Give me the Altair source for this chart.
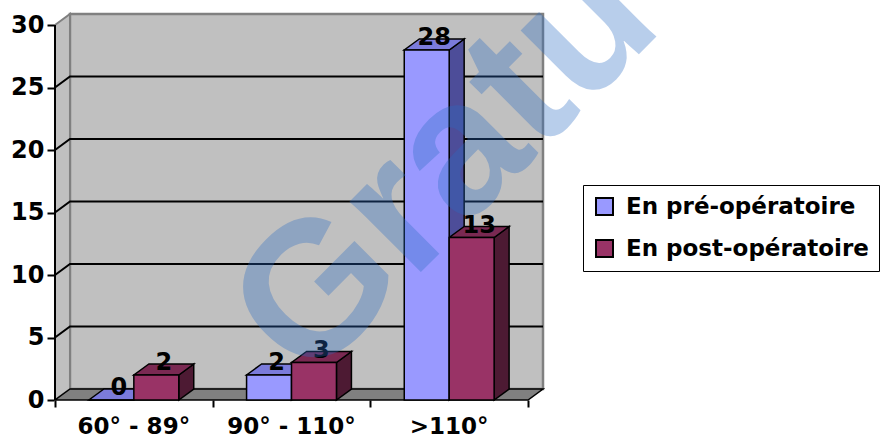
import altair as alt
import pandas as pd

# ---- data ----
CATEGORIES = ["60° - 89°", "90° - 110°", ">110°"]
SERIES = ["En pré-opératoire", "En post-opératoire"]
PRE = [0, 2, 28]
POST = [2, 3, 13]
Y_TICKS = [0, 5, 10, 15, 20, 25, 30]

# ---- styling ----
FRONT = ["#9999FF", "#993366"]
TOP = ["#7B7BDB", "#7A2952"]
SIDE = ["#4D4D99", "#4D1A33"]
FONT = "DejaVu Sans"

# 3D depth expressed in scale units (x: category units, y: value units)
DX = 0.095
DY = 0.88
BW = 0.285
N = len(CATEGORIES)
YMAX = max(Y_TICKS)

xs = alt.Scale(domain=[0, N + DX], nice=False, zero=False)
ys = alt.Scale(domain=[0, YMAX + DY], nice=False, zero=False)

X_AX = alt.Axis(values=list(range(N + 1)), labels=False, domain=False, grid=False,
                ticks=True, tickSize=7, tickWidth=2, tickColor="black", title=None)
Y_AX = alt.Axis(values=Y_TICKS, domain=False, grid=False, ticks=True, tickSize=8,
                tickWidth=2, tickColor="black", labelFont=FONT, labelFontSize=24,
                labelFontWeight="bold", labelColor="black", labelPadding=3, title=None)


def X(f):
    return alt.X(f, type="quantitative", scale=xs, axis=X_AX)


def Y(f):
    return alt.Y(f, type="quantitative", scale=ys, axis=Y_AX)


# ---- bar geometry derived from the data ----
rows, sides, tops = [], [], []
for si, (s, vals) in enumerate(zip(SERIES, [PRE, POST])):
    for ci, v in enumerate(vals):
        c = ci + 0.5
        x1 = c - BW + si * BW
        x2 = x1 + BW
        bid = f"{si}-{ci}"
        rows.append(dict(bar=bid, series=s, value=v, x1=x1, x2=x2, zero=0,
                         lx=(x1 + x2) / 2 + DX / 2, ly=v + DY, label=str(v)))
        sides.append(dict(bar=bid, series=s, x=x2, lo=0, hi=v))
        sides.append(dict(bar=bid, series=s, x=x2 + DX, lo=DY, hi=v + DY))
        tops.append(dict(bar=bid, series=s, y=v, xl=x1, xr=x2))
        tops.append(dict(bar=bid, series=s, y=v + DY, xl=x1 + DX, xr=x2 + DX))
bars = pd.DataFrame(rows)
sides = pd.DataFrame(sides)
tops = pd.DataFrame(tops)

# ---- walls / floor ----
wall = alt.Chart(pd.DataFrame([dict(x=DX, x2=N + DX, y=DY, y2=YMAX + DY)])).mark_rect(
    fill="#C0C0C0", stroke="#808080", strokeWidth=2.5
).encode(x=X("x"), x2="x2", y=Y("y"), y2="y2")

side_wall = alt.Chart(pd.DataFrame([dict(x=0, lo=0, hi=YMAX), dict(x=DX, lo=DY, hi=YMAX + DY)])).mark_area(
    orient="vertical", fill="#C0C0C0", stroke="#808080", strokeWidth=2
).encode(x=X("x"), y=Y("hi"), y2="lo")

floor = alt.Chart(pd.DataFrame([dict(y=0, xl=0, xr=N), dict(y=DY, xl=DX, xr=N + DX)])).mark_area(
    orient="horizontal", fill="#808080", stroke="black", strokeWidth=1.5
).encode(y=Y("y"), x=X("xl"), x2="xr")

grid_rows = []
for t in Y_TICKS[1:-1]:
    grid_rows += [dict(t=t, k=0, x=0, y=t), dict(t=t, k=1, x=DX, y=t + DY),
                  dict(t=t, k=2, x=N + DX, y=t + DY)]
grid = alt.Chart(pd.DataFrame(grid_rows)).mark_line(color="black", strokeWidth=2).encode(
    x=X("x"), y=Y("y"), detail="t:N", order="k:Q")

yaxis_line = alt.Chart(pd.DataFrame([dict(x=0, y=0, y2=YMAX)])).mark_rule(
    color="black", strokeWidth=2).encode(x=X("x"), y=Y("y"), y2="y2")

# ---- bars ----
side_layer = alt.Chart(sides).mark_area(orient="vertical", stroke="black", strokeWidth=1.5, opacity=1).encode(
    x=X("x"), y=Y("hi"), y2="lo", detail="bar:N",
    color=alt.Color("series:N", scale=alt.Scale(domain=SERIES, range=SIDE), legend=None))

top_layer = alt.Chart(tops).mark_area(orient="horizontal", stroke="black", strokeWidth=1.5, opacity=1).encode(
    y=Y("y"), x=X("xl"), x2="xr", detail="bar:N",
    color=alt.Color("series:N", scale=alt.Scale(domain=SERIES, range=TOP), legend=None))

front_layer = alt.Chart(bars).mark_rect(stroke="black", strokeWidth=1.5, opacity=1).encode(
    x=X("x1"), x2="x2", y=Y("value"), y2="zero",
    color=alt.Color("series:N", scale=alt.Scale(domain=SERIES, range=FRONT),
                    legend=alt.Legend(title=None, orient="none", legendX=528, legendY=171,
                                      strokeColor="black", padding=10, symbolType="square",
                                      symbolSize=289, symbolStrokeColor="black",
                                      symbolStrokeWidth=2, symbolOpacity=1,
                                      labelFont=FONT, labelFontSize=23, labelFontWeight="bold",
                                      labelColor="black", labelOffset=10, rowPadding=17,
                                      labelLimit=400)))

value_labels = alt.Chart(bars).mark_text(
    font=FONT, fontSize=24, fontWeight="bold", color="black", baseline="middle", align="center", dy=-1
).encode(x=X("lx"), y=Y("ly"), text="label:N")

cat_df = pd.DataFrame(dict(cat=CATEGORIES, x=[i + 0.5 for i in range(N)], y=[0] * N))
cat_labels = alt.Chart(cat_df).mark_text(
    font=FONT, fontSize=23, fontWeight="bold", color="black", baseline="middle", align="center", dy=27
).encode(x=X("x"), y=Y("y"), text="cat:N")

# faint watermark lying over the picture in the reference
watermark = alt.Chart(pd.DataFrame(dict(t=["Gratu"]))).mark_text(
    font="Liberation Sans", fontSize=190, fontWeight="bold", color="#2B6CC4", opacity=0.33,
    angle=315, align="left", baseline="alphabetic"
).encode(x=alt.value(252), y=alt.value(372), text="t:N")

chart = alt.layer(
    wall, side_wall, floor, grid, side_layer, top_layer, front_layer, yaxis_line,
    value_labels, cat_labels, watermark
).resolve_scale(color="independent").properties(
    width=488, height=386,
    autosize=alt.AutoSizeParams(type="none"),
    padding={"left": 55, "top": 14, "right": 340, "bottom": 44},
    background="white",
).configure_view(strokeWidth=0)

chart.save("out.html", embed_options={"renderer": "svg", "actions": False})
